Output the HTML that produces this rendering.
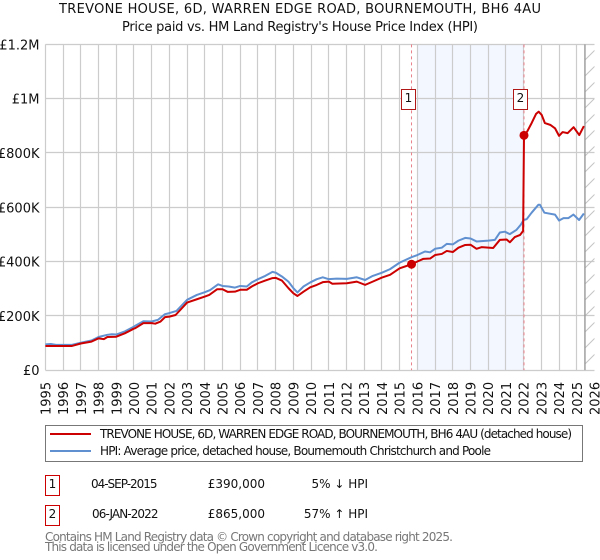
<!DOCTYPE html>
<html lang="en">
<head>
<meta charset="utf-8">
<title>TREVONE HOUSE price paid vs HPI</title>
<style>
html,body{margin:0;padding:0;background:#fff;}
svg{display:block;}
text{font-family:"DejaVu Sans","Liberation Sans",sans-serif;fill:#111;}
</style>
</head>
<body>
<svg id="chart" xmlns="http://www.w3.org/2000/svg" width="600" height="560" viewBox="0 0 600 560">
  <defs>
    <pattern id="hatch" patternUnits="userSpaceOnUse" width="16" height="16" patternTransform="translate(585 44)">
      <line x1="0" y1="16" x2="16" y2="0" stroke="#c4c4c4" stroke-width="1"/>
    </pattern>
  </defs>
  <text x="300" y="13" text-anchor="middle" font-size="13" textLength="482" lengthAdjust="spacing">TREVONE HOUSE, 6D, WARREN EDGE ROAD, BOURNEMOUTH, BH6 4AU</text>
  <text x="300" y="31" text-anchor="middle" font-size="13" textLength="356" lengthAdjust="spacing">Price paid vs. HM Land Registry's House Price Index (HPI)</text>
  <g id="plot"></g>

  <g>
    <rect x="45.5" y="425.5" width="537" height="36" fill="#fff" stroke="#777" stroke-width="1"/>
    <line x1="50" y1="434" x2="91" y2="434" stroke="#cc0000" stroke-width="2"/>
    <text x="100" y="438" font-size="12" textLength="472" lengthAdjust="spacing">TREVONE HOUSE, 6D, WARREN EDGE ROAD, BOURNEMOUTH, BH6 4AU (detached house)</text>
    <line x1="50" y1="451" x2="91" y2="451" stroke="#6090d0" stroke-width="2"/>
    <text x="100" y="455" font-size="12" textLength="391" lengthAdjust="spacing">HPI: Average price, detached house, Bournemouth Christchurch and Poole</text>
  </g>

  <g>
    <rect x="45.5" y="475.5" width="14" height="20" fill="#fff" stroke="#cc0000" stroke-width="1"/>
    <text x="52.5" y="488" text-anchor="middle" font-size="12">1</text>
    <text x="91" y="488" font-size="12" textLength="66.5" lengthAdjust="spacing">04-SEP-2015</text>
    <text x="265" y="488" text-anchor="end" font-size="12">£390,000</text>
    <text x="368" y="488" text-anchor="end" font-size="12">5% ↓ HPI</text>
    <rect x="45.5" y="505.5" width="14" height="20" fill="#fff" stroke="#cc0000" stroke-width="1"/>
    <text x="52.5" y="518" text-anchor="middle" font-size="12">2</text>
    <text x="92" y="518" font-size="12" textLength="66.5" lengthAdjust="spacing">06-JAN-2022</text>
    <text x="265" y="518" text-anchor="end" font-size="12">£865,000</text>
    <text x="368" y="518" text-anchor="end" font-size="12">57% ↑ HPI</text>
  </g>

  <g>
    <text x="45" y="541" font-size="12" style="fill:#777" textLength="408" lengthAdjust="spacing">Contains HM Land Registry data © Crown copyright and database right 2025.</text>
    <text x="45" y="551" font-size="12" style="fill:#777" textLength="333" lengthAdjust="spacing">This data is licensed under the Open Government Licence v3.0.</text>
  </g>
</svg>
<script>
// Chart data (values in £ thousands, dates in decimal years)
const yearTicks = [1995,1996,1997,1998,1999,2000,2001,2002,2003,2004,2005,2006,2007,2008,2009,2010,2011,2012,2013,2014,2015,2016,2017,2018,2019,2020,2021,2022,2023,2024,2025,2026];
const valueTicks = [0,200,400,600,800,1000,1200];
const valueTickLabels = ['£0','£200K','£400K','£600K','£800K','£1M','£1.2M'];

const hpiDates = [1995,1995.3,1995.6,1996,1996.5,1997,1997.6,1998,1998.5,1998.75,1999,1999.5,2000,2000.06,2000.53,2001,2001.35,2001.75,2002,2002.4,2003,2003.55,2004,2004.3,2004.75,2005,2005.35,2005.7,2006,2006.37,2006.65,2007,2007.41,2007.82,2008,2008.35,2008.72,2009,2009.23,2009.57,2009.95,2010.32,2010.66,2011,2011.45,2012.02,2012.58,2013.05,2013.48,2014,2014.46,2015,2015.67,2016,2016.43,2016.72,2017,2017.38,2017.66,2018,2018.32,2018.7,2019,2019.34,2020,2020.38,2020.66,2020.94,2021.22,2021.6,2021.83,2022,2022.17,2022.45,2022.83,2022.92,2023.17,2023.77,2024,2024.25,2024.53,2024.81,2025.13,2025.4];
const hpiValues = [95,96,93,93,93,101,109,122,130,132,131,143,160,163,180,179,185,206,210,218,259,277,287,295,316,310,308,304,310,308,323,335,347,362,359,345,326,302,286,308,323,335,342,335,337,336,342,332,347,359,372,396,416,424,437,434,447,451,465,463,477,487,485,474,477,480,507,510,501,517,535,553,556,580,609,609,580,573,551,560,560,573,553,577];

const priceDates = [1995,1995.6,1996,1996.5,1997,1997.6,1998,1998.3,1998.5,1999,1999.5,2000,2000.06,2000.53,2001,2001.2,2001.5,2001.75,2002,2002.35,2003,2003.55,2004,2004.25,2004.7,2005,2005.3,2005.7,2006,2006.37,2006.65,2007,2007.41,2007.82,2008,2008.35,2008.72,2009,2009.23,2009.57,2009.95,2010.32,2010.66,2011,2011.2,2012.02,2012.58,2013.05,2013.48,2014,2014.46,2015,2015.67,2016,2016.34,2016.72,2017,2017.38,2017.66,2018,2018.32,2018.7,2019,2019.34,2019.62,2020.28,2020.66,2021.04,2021.22,2021.5,2021.8,2021.97,2022.02,2022.2,2022.45,2022.7,2022.85,2023.02,2023.2,2023.52,2023.77,2024,2024.2,2024.48,2024.82,2025.14,2025.4];
const priceValues = [89,89,89,89,98,105,117,114,122,123,136,153,154,173,173,171,179,195,197,203,249,261,271,277,298,298,288,289,296,296,308,320,330,339,340,330,302,283,273,289,305,314,324,326,318,320,326,314,326,341,351,375,390,400,410,411,424,428,439,435,451,461,462,447,453,450,480,481,471,490,498,513,865,879,910,944,952,940,910,903,891,863,877,873,895,866,899];

const saleDates = [2015.67,2022.02];
const saleValues = [390,865];
const saleLabels = ['1','2'];
const shadeStart = 2016;
const shadeEnd = 2022.02;
const hatchStart = 2025.46;
const axisStartYear = 1995;
const axisEndYear = 2026;
const axisMaxValue = 1200;

const NS = 'http://www.w3.org/2000/svg';
const plot = document.getElementById('plot');
const LEFT = 45.4, RIGHT = 594.5, TOP = 44.4, BOTTOM = 370.1;
function xScale(year){ return LEFT + (year - axisStartYear) / (axisEndYear - axisStartYear) * (RIGHT - LEFT); }
function yScale(value){ return BOTTOM - value / axisMaxValue * (BOTTOM - TOP); }
function crisp(p){ return Math.floor(p) + 0.5; }
function make(tag, attrs, parent){
  const el = document.createElementNS(NS, tag);
  for (const k in attrs) el.setAttribute(k, attrs[k]);
  (parent || plot).appendChild(el);
  return el;
}
function pathFor(dates, values){
  return dates.map((d, i) => (i ? 'L' : 'M') + xScale(d).toFixed(2) + ' ' + yScale(values[i]).toFixed(2)).join(' ');
}

// shaded ownership band
const shade = make('rect', {x: xScale(shadeStart), y: TOP, width: xScale(shadeEnd) - xScale(shadeStart), height: BOTTOM - TOP, fill: '#f3f7ff'});



// gridlines
yearTicks.forEach(function(year){
  if (year < axisEndYear) {
    const gl = make('line', {x1: crisp(xScale(year)), x2: crisp(xScale(year)), y1: TOP, y2: BOTTOM, stroke: '#cccccc', 'stroke-width': 1.2});
    
    
  }
  const x = xScale(year);
  const label = make('text', {transform: 'translate(' + (x + 5) + ' 415) rotate(-90)', 'font-size': 13});
  label.textContent = String(year);
  
  
});
valueTicks.forEach(function(value, i){
  const gl = make('line', {x1: LEFT, x2: RIGHT, y1: crisp(yScale(value)), y2: crisp(yScale(value)), stroke: '#cccccc', 'stroke-width': 1.2});
  
  
  const label = make('text', {x: 39.5, y: yScale(value) + 5, 'text-anchor': 'end', 'font-size': 13});
  label.textContent = valueTickLabels[i];
  
  
});

// hatched future region
const hatch = make('rect', {x: xScale(hatchStart), y: TOP, width: RIGHT - xScale(hatchStart), height: BOTTOM - TOP, fill: 'url(#hatch)'});


const hatchEdge = make('line', {x1: xScale(hatchStart), x2: xScale(hatchStart), y1: TOP, y2: BOTTOM, stroke: '#999999', 'stroke-width': 1.4});



// sale date markers (dashed)
saleDates.forEach(function(date){
  const dash = make('line', {x1: xScale(date), x2: xScale(date), y1: TOP, y2: BOTTOM, stroke: '#e8808a', 'stroke-width': 1, 'stroke-dasharray': '3 3'});
  
  
});

// series
const hpiLine = make('path', {d: pathFor(hpiDates, hpiValues), fill: 'none', stroke: '#6090d0', 'stroke-width': 2, 'stroke-linejoin': 'round'});


const priceLine = make('path', {d: pathFor(priceDates, priceValues), fill: 'none', stroke: '#cc0000', 'stroke-width': 2, 'stroke-linejoin': 'round'});



// sale points and numbered labels
saleDates.forEach(function(date, i){
  const dot = make('circle', {cx: xScale(date), cy: yScale(saleValues[i]), r: 4.5, fill: '#cc0000'});
  
  
  const box = make('rect', {x: crisp(xScale(date) - 10.2), y: 89.5, width: 14, height: 20, fill: '#fff', stroke: '#b01818', 'stroke-width': 1});
  
  
  const label = make('text', {x: crisp(xScale(date) - 10.2) + 7, y: 102, 'text-anchor': 'middle', 'font-size': 12});
  label.textContent = saleLabels[i];
  
  
});
</script>
</body>
</html>
